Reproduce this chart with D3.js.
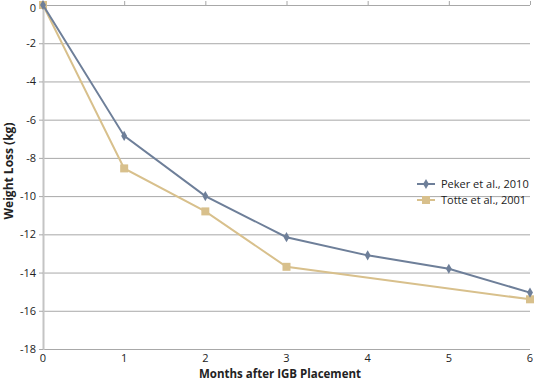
<!DOCTYPE html>
<meta charset="utf-8">
<script src="https://d3js.org/d3.v7.min.js"></script>
<style>
body { margin: 0; background: #fff; }
text { font-family: "Open Sans", sans-serif; fill: #222; }
</style>
<div id="my_dataviz"></div>
<script>
// data
var months = [0, 1, 2, 3, 4, 5, 6];
var pekerMonths = [0, 1, 2, 3, 4, 5, 6];
var pekerLoss = [0, -6.85, -10, -12.15, -13.1, -13.8, -15.05];
var totteMonths = [0, 1, 2, 3, 6];
var totteLoss = [0, -8.55, -10.8, -13.7, -15.4];
var yTicks = [0, -2, -4, -6, -8, -10, -12, -14, -16, -18];
var seriesNames = ["Peker et al., 2010", "Totte et al., 2001"];
var seriesColors = ["#6e7f99", "#d8c08c"];

var margin = {top: 5, right: 4, bottom: 31, left: 43},
    width = 534 - margin.left - margin.right,
    height = 381 - margin.top - margin.bottom;

var svg = d3.select("#my_dataviz")
  .append("svg")
    .attr("width", 534)
    .attr("height", 381)
  .append("g")
    .attr("transform", "translate(" + margin.left + "," + margin.top + ")");

var x = d3.scaleLinear().domain([0, 6]).range([0, 487]);
var y = d3.scaleLinear().domain([0, -18]).range([0, 344]);

// gridlines
svg.append("g")
  .selectAll("line")
  .data(yTicks)
  .enter()
  .append("line")
    .attr("x1", 0)
    .attr("x2", x(6))
    .attr("y1", function(d) { return y(d) + 0.5 })
    .attr("y2", function(d) { return y(d) + 0.5 })
    .style("stroke", "#a8a8a8")
    .style("stroke-width", 1);

// left axis line + ticks
svg.append("line")
  .attr("x1", 0.5).attr("x2", 0.5)
  .attr("y1", 0).attr("y2", y(-18) + 1)
  .style("stroke", "#c4c4c4").style("stroke-width", 2);
svg.append("g")
  .selectAll("line")
  .data(yTicks)
  .enter()
  .append("line")
    .attr("x1", -4).attr("x2", 0)
    .attr("y1", function(d) { return y(d) + 0.5 })
    .attr("y2", function(d) { return y(d) + 0.5 })
    .style("stroke", "#a8a8a8");

// small x ticks on the zero line
svg.append("g")
  .selectAll("line")
  .data(months.slice(1))
  .enter()
  .append("line")
    .attr("x1", function(d) { return x(d) + 0.5 })
    .attr("x2", function(d) { return x(d) + 0.5 })
    .attr("y1", -4).attr("y2", 0)
    .style("stroke", "#a8a8a8");

// y tick labels (top one nudged so it stays inside the page)
svg.append("g")
  .selectAll("text")
  .data(yTicks)
  .enter()
  .append("text")
    .attr("x", -7)
    .attr("y", function(d) { return Math.max(y(d) + 4, 7) })
    .attr("text-anchor", "end")
    .style("font-size", "11px")
    .text(function(d) { return d });

// x tick labels
svg.append("g")
  .selectAll("text")
  .data(months)
  .enter()
  .append("text")
    .attr("x", function(d) { return x(d) })
    .attr("y", y(-18) + 13)
    .attr("text-anchor", "middle")
    .style("font-size", "11px")
    .text(function(d) { return d });

// axis titles
svg.append("text")
  .attr("x", 280 - margin.left)
  .attr("y", 378 - margin.top)
  .attr("text-anchor", "middle")
  .style("font-size", "11.5px")
  .style("font-weight", "bold")
  .text("Months after IGB Placement");

svg.append("text")
  .attr("transform", "translate(" + (13 - margin.left) + "," + (171 - margin.top) + ") rotate(-90)")
  .attr("text-anchor", "middle")
  .style("font-size", "12px")
  .style("font-weight", "bold")
  .text("Weight Loss (kg)");

var line = d3.line()
  .x(function(d) { return x(d[0]) })
  .y(function(d) { return y(d[1]) });

var pekerData = pekerMonths.map(function(m, i) { return [m, pekerLoss[i]] });
var totteData = totteMonths.map(function(m, i) { return [m, totteLoss[i]] });

// Totte line + squares
svg.append("path")
  .datum(totteData)
  .attr("d", line)
  .style("fill", "none")
  .style("stroke", seriesColors[1])
  .style("stroke-width", 2);
svg.append("g")
  .selectAll("rect")
  .data(totteData)
  .enter()
  .append("rect")
    .attr("x", function(d) { return x(d[0]) - 4 })
    .attr("y", function(d) { return y(d[1]) - 4 })
    .attr("width", 8)
    .attr("height", 8)
    .style("fill", seriesColors[1]);

// Peker line + diamonds
svg.append("path")
  .datum(pekerData)
  .attr("d", line)
  .style("fill", "none")
  .style("stroke", seriesColors[0])
  .style("stroke-width", 2);
var diamond = d3.symbol().type(d3.symbolDiamond).size(30);
svg.append("g")
  .selectAll("path")
  .data(pekerData)
  .enter()
  .append("path")
    .attr("d", diamond)
    .attr("transform", function(d) { return "translate(" + x(d[0]) + "," + y(d[1]) + ")" })
    .style("fill", seriesColors[0]);

// legend
var legend = svg.append("g")
  .attr("transform", "translate(" + (417 - margin.left) + "," + (184 - margin.top) + ")");
legend.selectAll("line")
  .data(seriesNames)
  .enter()
  .append("line")
    .attr("x1", 0).attr("x2", 18)
    .attr("y1", function(d, i) { return i * 16 })
    .attr("y2", function(d, i) { return i * 16 })
    .style("stroke", function(d, i) { return seriesColors[i] })
    .style("stroke-width", 2);
legend.append("path")
  .attr("d", diamond)
  .attr("transform", "translate(9,0)")
  .style("fill", seriesColors[0]);
legend.append("rect")
  .attr("x", 5).attr("y", 12).attr("width", 8).attr("height", 8)
  .style("fill", seriesColors[1]);
legend.selectAll("text")
  .data(seriesNames)
  .enter()
  .append("text")
    .attr("x", 24)
    .attr("y", function(d, i) { return i * 16 + 4 })
    .style("font-size", "11px")
    .text(function(d) { return d });
</script>
